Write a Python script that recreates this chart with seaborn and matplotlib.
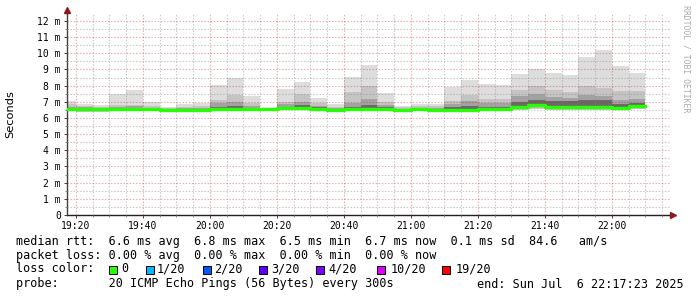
import numpy as np
import pandas as pd
import matplotlib
matplotlib.use("Agg")
import matplotlib.pyplot as plt
import seaborn as sns
from matplotlib.patches import Rectangle

# ---------------- data (ms) ----------------
bin_end = pd.date_range("2025-07-06 19:20", "2025-07-06 22:10", freq="5min")

rtt_max = [7.05, 6.86, 6.78, 7.46, 7.73, 6.99, 6.66, 6.85, 6.93, 8.02, 8.49, 7.36, 6.64, 7.79, 8.20,
           7.24, 6.85, 8.55, 9.28, 7.54, 6.74, 6.88, 6.85, 7.94, 8.35, 8.10, 8.04, 8.72, 9.03, 8.76,
           8.66, 9.77, 10.20, 9.20, 8.76]
rtt_p90 = [6.85, 6.75, 6.68, 6.78, 6.82, 6.72, 6.60, 6.70, 6.75, 7.10, 7.45, 6.90, 6.60, 7.00, 7.50,
           6.90, 6.70, 7.60, 7.95, 7.00, 6.65, 6.72, 6.72, 7.05, 7.45, 7.20, 7.20, 7.75, 8.00, 7.70,
           7.60, 8.00, 7.85, 7.65, 7.65]
rtt_p75 = [6.70, 6.65, 6.60, 6.68, 6.72, 6.62, 6.56, 6.60, 6.62, 6.90, 7.00, 6.75, 6.58, 6.85, 7.00,
           6.75, 6.60, 6.95, 7.20, 6.78, 6.58, 6.62, 6.62, 6.85, 7.05, 6.95, 6.95, 7.35, 7.50, 7.30,
           7.25, 7.40, 7.35, 7.10, 7.20]
rtt_p60 = [6.62, 6.58, 6.56, 6.60, 6.62, 6.58, 6.53, 6.55, 6.56, 6.70, 6.75, 6.62, 6.58, 6.70, 6.78,
           6.65, 6.55, 6.70, 6.80, 6.65, 6.52, 6.57, 6.57, 6.70, 6.75, 6.70, 6.70, 7.00, 7.10, 7.05,
           7.05, 7.10, 7.10, 6.85, 6.90]
rtt_median = [6.57, 6.54, 6.54, 6.56, 6.54, 6.54, 6.50, 6.50, 6.50, 6.57, 6.56, 6.54, 6.58, 6.60, 6.62,
              6.55, 6.49, 6.54, 6.56, 6.54, 6.47, 6.54, 6.50, 6.50, 6.47, 6.55, 6.55, 6.68, 6.80, 6.66,
              6.66, 6.66, 6.66, 6.60, 6.72]
rtt_p25 = [6.52, 6.48, 6.48, 6.50, 6.50, 6.50, 6.48, 6.47, 6.47, 6.52, 6.50, 6.50, 6.52, 6.54, 6.56,
           6.50, 6.45, 6.50, 6.52, 6.50, 6.44, 6.50, 6.47, 6.47, 6.44, 6.50, 6.50, 6.60, 6.70, 6.58,
           6.58, 6.58, 6.58, 6.55, 6.64]
rtt_min = [6.43, 6.35, 6.35, 6.45, 6.45, 6.47, 6.47, 6.45, 6.45, 6.45, 6.45, 6.45, 6.45, 6.47, 6.50,
           6.47, 6.42, 6.45, 6.47, 6.47, 6.42, 6.47, 6.45, 6.45, 6.42, 6.47, 6.47, 6.52, 6.58, 6.52,
           6.52, 6.50, 6.50, 6.50, 6.55]

x_ticks = ["19:20", "19:40", "20:00", "20:20", "20:40", "21:00", "21:20", "21:40", "22:00"]
y_ticks = list(range(0, 13))

stats_rtt = "median rtt:  6.6 ms avg  6.8 ms max  6.5 ms min  6.7 ms now  0.1 ms sd  84.6   am/s"
stats_loss = "packet loss: 0.00 % avg  0.00 % max  0.00 % min  0.00 % now"
loss_labels = ["0", "1/20", "2/20", "3/20", "4/20", "10/20", "19/20"]
loss_colors = ["#26ff00", "#00b8ff", "#0059ff", "#5e00ff", "#7e00ff", "#dd00ff", "#ff0000"]
probe_text = "probe:       20 ICMP Echo Pings (56 Bytes) every 300s"
end_text = "end: Sun Jul  6 22:17:23 2025"

# ---------------- figure ----------------
W, H = 697, 297
fig = plt.figure(figsize=(W / 100, H / 100), dpi=100, facecolor="white")
L, R, T, B = 67, 670, 13, 215
ax = fig.add_axes([L / W, 1 - B / H, (R - L) / W, (B - T) / H])

def minutes(ts):
    return ts.hour * 60 + ts.minute + ts.second / 60

ends = np.array([minutes(t) for t in bin_end])
edges = np.concatenate([ends - 5, ends[-1:]])

def ext(a):
    a = list(a)
    return np.array(a + a[-1:])

ax.fill_between(edges, ext(rtt_min), ext(rtt_max), step="post", color="#dddddd", lw=0, zorder=1)
ax.fill_between(edges, ext(rtt_min), ext(rtt_p90), step="post", color="#c4c4c4", lw=0, zorder=1)
ax.fill_between(edges, ext(rtt_p25), ext(rtt_p75), step="post", color="#a2a2a2", lw=0, zorder=1)
ax.fill_between(edges, ext(rtt_p25), ext(rtt_p60), step="post", color="#6a6a6a", lw=0, zorder=1)

df = pd.DataFrame({"t": edges, "median": ext(rtt_median)})
sns.lineplot(data=df, x="t", y="median", drawstyle="steps-post", color=loss_colors[0],
             lw=2.4, ax=ax, zorder=3, legend=False)

x0 = minutes(pd.Timestamp("2025-07-06 19:17:23"))
x1 = minutes(pd.Timestamp("2025-07-06 22:17:23"))
ax.set_xlim(x0, x1)
ax.set_ylim(0, 12.49)

# grid
xt = [int(s[:2]) * 60 + int(s[3:]) for s in x_ticks]
ax.set_xticks(xt)
ax.set_xticklabels(x_ticks)
ax.set_xticks(np.arange(1160, 1340, 5), minor=True)
ax.set_yticks(y_ticks)
ax.set_yticklabels([f"{v} m" if v else "0" for v in y_ticks])
ax.set_yticks(np.arange(0.5, 12.5, 1.0), minor=True)
ax.set_axisbelow(False)
ax.grid(which="minor", color="#8c8c8c", alpha=0.45, lw=0.8, ls=(0, (1.4, 1.4)))
ax.grid(which="major", color="#c02020", alpha=0.35, lw=0.8, ls=(0, (1.4, 1.4)))

mono = "DejaVu Sans Mono"
ax.tick_params(which="major", length=2.5, width=0.7, pad=2, labelsize=7, color="#404040")
ax.tick_params(which="minor", length=1.5, width=0.7, color="#808080")
for lab in ax.get_xticklabels() + ax.get_yticklabels():
    lab.set_fontfamily(mono)
ax.set_xlabel("")
ax.set_ylabel("")

for s in ["top", "right"]:
    ax.spines[s].set_visible(False)
ax.spines["left"].set_color("#404040")
ax.spines["bottom"].set_color("#202020")
ax.spines["left"].set_linewidth(1.0)
ax.spines["bottom"].set_linewidth(1.0)
ax.spines["left"].set_bounds(0, 12.49 + 0.18)

# arrows
ax.plot([0], [1 + 3 / (B - T)], marker="^", ms=4, color="#8b1a1a", transform=ax.transAxes,
        clip_on=False, zorder=5)
ax.plot([1 + 3 / (R - L)], [0], marker=">", ms=4, color="#8b1a1a", transform=ax.transAxes,
        clip_on=False, zorder=5)

def fy(py):
    return 1 - py / H

def fx(px):
    return px / W

fig.text(fx(10), fy(114), "Seconds", rotation=90, ha="center", va="center",
         fontsize=8.2, family="DejaVu Sans")
fig.text(fx(686), fy(5), "RRDTOOL / TOBI OETIKER", rotation=270, ha="center", va="top",
         fontsize=5.9, family=mono, color="#aaaaaa")

fs = 8.5
fig.text(fx(16), fy(241), stats_rtt, ha="left", va="center", fontsize=fs, family=mono)
fig.text(fx(16), fy(255), stats_loss, ha="left", va="center", fontsize=fs, family=mono)
fig.text(fx(16), fy(269), "loss color:", ha="left", va="center", fontsize=fs, family=mono)
box_x = [109, 146, 203, 259, 316, 377, 442]
txt_x = [121, 157, 214, 271, 328, 391, 456]
for bx, tx, lab, c in zip(box_x, txt_x, loss_labels, loss_colors):
    fig.patches.append(Rectangle((fx(bx), fy(273.5)), 8 / W, 8 / H, transform=fig.transFigure,
                                 facecolor=c, edgecolor="black", lw=0.7))
    fig.text(fx(tx), fy(269), lab, ha="left", va="center", fontsize=fs, family=mono)
fig.text(fx(16), fy(284), probe_text, ha="left", va="center", fontsize=fs, family=mono)
fig.text(fx(477), fy(284), end_text, ha="left", va="center", fontsize=fs, family=mono)

fig.savefig("out.png", dpi=100, facecolor="white")
